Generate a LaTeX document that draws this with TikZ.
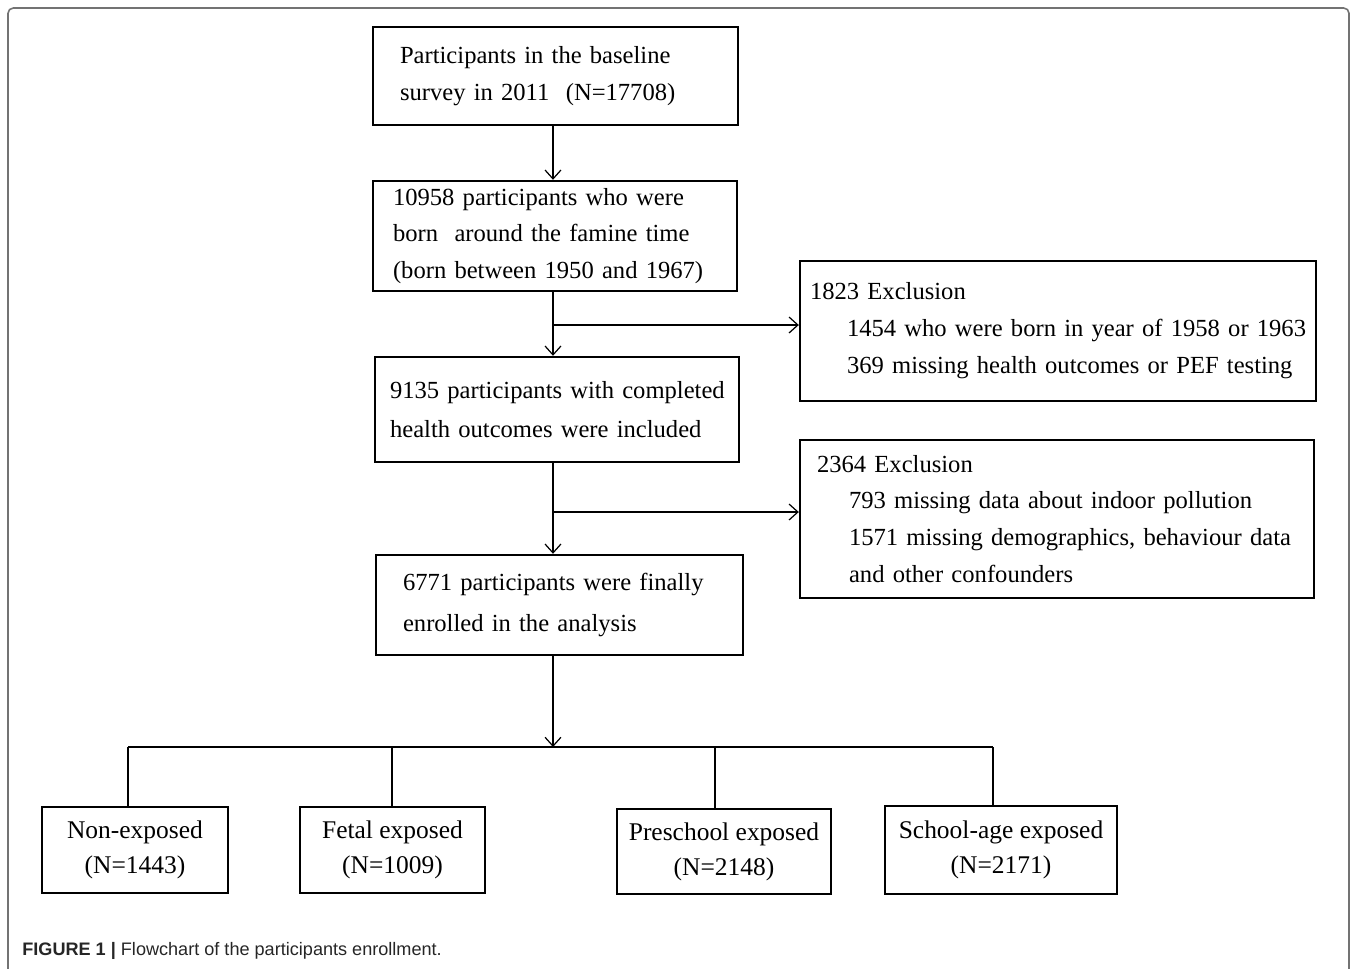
\documentclass[tikz,border=0pt]{standalone}
\usepackage{fontspec}
\setmainfont{Liberation Serif}
\newfontfamily\capfont{Liberation Sans}
\usetikzlibrary{positioning, arrows.meta}

\begin{document}
\begin{tikzpicture}[
    x=0.02cm, y=-0.02cm,
    box/.style={draw, line width=1.4pt, font=\fontsize{14}{21}\selectfont, align=left},
    exbox/.style={box, text width=9.6cm},
    group/.style={draw, line width=1.4pt, font=\fontsize{14.5}{20}\selectfont, align=center, minimum height=1.72cm},
    link/.style={line width=0.7pt},
    arrow/.style={link, -{Straight Barb[length=5pt,width=9pt]}},
]
\clip (0,0) rectangle (1357,968);
\draw[black!55, line width=0.9pt, rounded corners=3pt] (8,8) rectangle (1349,1000);

% main column
\node[box, minimum width=7.3cm, minimum height=1.96cm, text width=6.22cm, inner xsep=0.54cm] (base) at (555.5,76)
    {\mbox{Participants in the baseline}\\\mbox{survey in 2011\ \ (N=17708)}};
\node[box, minimum width=7.28cm, minimum height=2.2cm, text width=6.48cm, inner xsep=0.4cm] (born) at (555,236)
    {\mbox{10958 participants who were}\\\mbox{born\ \ around the famine time}\\\mbox{(born between 1950 and 1967)}};
\node[box, minimum width=7.28cm, minimum height=2.1cm, text width=6.68cm, inner xsep=0.3cm, font=\fontsize{14}{22}\selectfont] (incl) at (557,409.5)
    {\mbox{9135 participants with completed}\\\mbox{health outcomes were included}};
\node[box, minimum width=7.34cm, minimum height=2.0cm, text width=6.26cm, inner xsep=0.54cm, font=\fontsize{14}{23}\selectfont] (final) at (559.5,605)
    {\mbox{6771 participants were finally}\\\mbox{enrolled in the analysis}};

% exclusions
\node[box, minimum width=10.32cm, minimum height=2.8cm, text width=9.92cm, inner xsep=0.2cm] (ex1) at (1058,331)
    {1823 Exclusion\\\hspace*{0.74cm}\mbox{1454 who were born in year of 1958 or 1963}\\\hspace*{0.74cm}\mbox{369 missing health outcomes or PEF testing}};
\node[exbox, minimum width=10.28cm, minimum height=3.16cm, inner xsep=0.34cm] (ex2) at (1057,519)
    {2364 Exclusion\\\hspace*{0.64cm}\mbox{793 missing data about indoor pollution}\\\hspace*{0.64cm}\mbox{1571 missing demographics, behaviour data}\\\hspace*{0.64cm}\mbox{and other confounders}};

% groups
\node[group, minimum width=3.72cm] (none) at (135,850) {Non-exposed\\(N=1443)};
\node[group, minimum width=3.7cm] (fetal) at (392.5,850) {Fetal exposed\\(N=1009)};
\node[group, minimum width=4.28cm, minimum height=1.7cm] (pre) at (724,851.5) {Preschool exposed\\(N=2148)};
\node[group, minimum width=4.64cm, minimum height=1.76cm] (school) at (1001,850) {School-age exposed\\(N=2171)};

\coordinate (spine) at (553,0);
\coordinate (j1) at (553,325);
\coordinate (j2) at (553,512);
\coordinate (hub) at (553,747);
\coordinate (g1) at (128,747);
\coordinate (g2) at (392,747);
\coordinate (g3) at (715,747);
\coordinate (g4) at (993,747);

\draw[arrow] (base.south -| spine) -- (born.north -| spine);
\draw[arrow] (born.south -| spine) -- (incl.north -| spine);
\draw[arrow] (j1) -- (j1 -| ex1.west);
\draw[arrow] (incl.south -| spine) -- (final.north -| spine);
\draw[arrow] (j2) -- (j2 -| ex2.west);
\draw[arrow] (final.south -| spine) -- (hub);
\draw[link] (g1) -- (g4);
\foreach \g/\n in {g1/none, g2/fetal, g3/pre, g4/school}
    \draw[link] (\g) -- (\g |- \n.north);

\node[anchor=base west, inner sep=0pt, font=\capfont\fontsize{10.3}{12}\selectfont, text=black!85] (cap) at (22,955)
    {\textbf{FIGURE 1 |} Flowchart of the participants enrollment.};
\end{tikzpicture}
\end{document}
